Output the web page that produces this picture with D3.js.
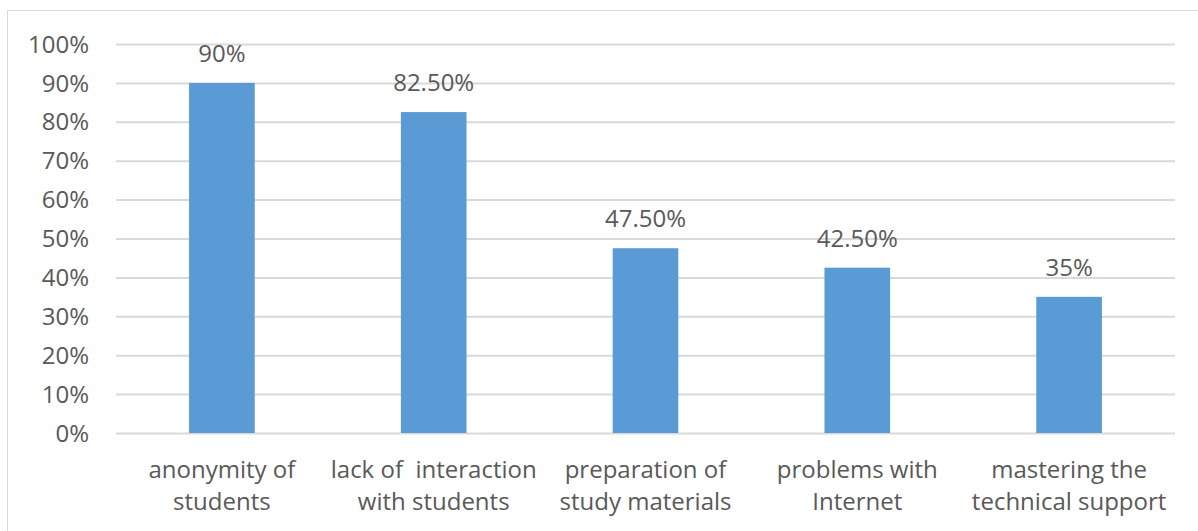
<!DOCTYPE html>
<html>
<head>
<meta charset="utf-8">
<script src="https://cdn.jsdelivr.net/npm/d3@7"></script>
<style>
  html, body { margin: 0; padding: 0; background: #fff; }
  svg { display: block; }
  text { font-family: "Open Sans", "DejaVu Sans", sans-serif; fill: #595959; }
</style>
</head>
<body>
<svg id="chart" width="1198" height="531"></svg>
<script>
// Share of respondents naming each difficulty
const categories = [
  ["anonymity of", "students"],
  ["lack of  interaction", "with students"],
  ["preparation of", "study materials"],
  ["problems with", "Internet"],
  ["mastering the", "technical support"]
];
const values = [0.90, 0.825, 0.475, 0.425, 0.35];
const yTicks = [0, 0.1, 0.2, 0.3, 0.4, 0.5, 0.6, 0.7, 0.8, 0.9, 1.0];

const W = 1198, H = 531;
const plot = { left: 116, right: 1175, top: 44, bottom: 433 };
const svg = d3.select("#chart");

// outer chart frame (right and bottom edges run off the canvas)
svg.append("rect")
  .attr("x", 7.5).attr("y", 10.5)
  .attr("width", W).attr("height", H)
  .attr("fill", "none").attr("stroke", "#d9d9d9").attr("stroke-width", 1);

const keys = categories.map((c, i) => i);
const x = d3.scaleBand()
  .domain(keys)
  .range([plot.left, plot.right])
  .paddingInner(0.69)
  .paddingOuter(0.345);

const y = d3.scaleLinear().domain([0, 1]).range([plot.bottom, plot.top]);

// horizontal gridlines + percentage labels
const yAxis = d3.axisLeft(y)
  .tickValues(yTicks)
  .tickFormat(d3.format(".0%"))
  .tickSize(-(plot.right - plot.left))
  .tickPadding(27);

const gy = svg.append("g")
  .attr("transform", `translate(${plot.left},0)`)
  .call(yAxis);
gy.select(".domain").remove();
gy.selectAll(".tick line").attr("stroke", "#d9d9d9").attr("stroke-width", 2);
gy.selectAll(".tick text")
  .attr("font-size", 24)
  .style("fill", "#595959")
  .attr("dy", "0.34em");

// bars
svg.append("g").selectAll("rect")
  .data(values)
  .join("rect")
  .attr("x", (d, i) => x(i))
  .attr("width", x.bandwidth())
  .attr("y", d => y(d))
  .attr("height", d => y(0) - y(d))
  .attr("fill", "#5b9bd5");

// value labels
const fmtVal = v => {
  const p = Math.round(v * 10000) / 100;
  return Number.isInteger(p) ? `${p}%` : `${p.toFixed(2)}%`;
};
svg.append("g").selectAll("text")
  .data(values)
  .join("text")
  .attr("x", (d, i) => x(i) + x.bandwidth() / 2)
  .attr("y", d => y(d) - 21)
  .attr("text-anchor", "middle")
  .attr("font-size", 24)
  .text(d => fmtVal(d));

// category labels on two lines
const cat = svg.append("g").selectAll("text")
  .data(categories)
  .join("text")
  .attr("text-anchor", "middle")
  .attr("font-size", 24)
  .style("white-space", "pre")
  .attr("transform", (d, i) => `translate(${x(i) + x.bandwidth() / 2},0)`);
cat.selectAll("tspan")
  .data(d => d)
  .join("tspan")
  .attr("x", 0)
  .attr("y", (d, j) => 478 + j * 32)
  .text(d => d);
</script>
</body>
</html>
